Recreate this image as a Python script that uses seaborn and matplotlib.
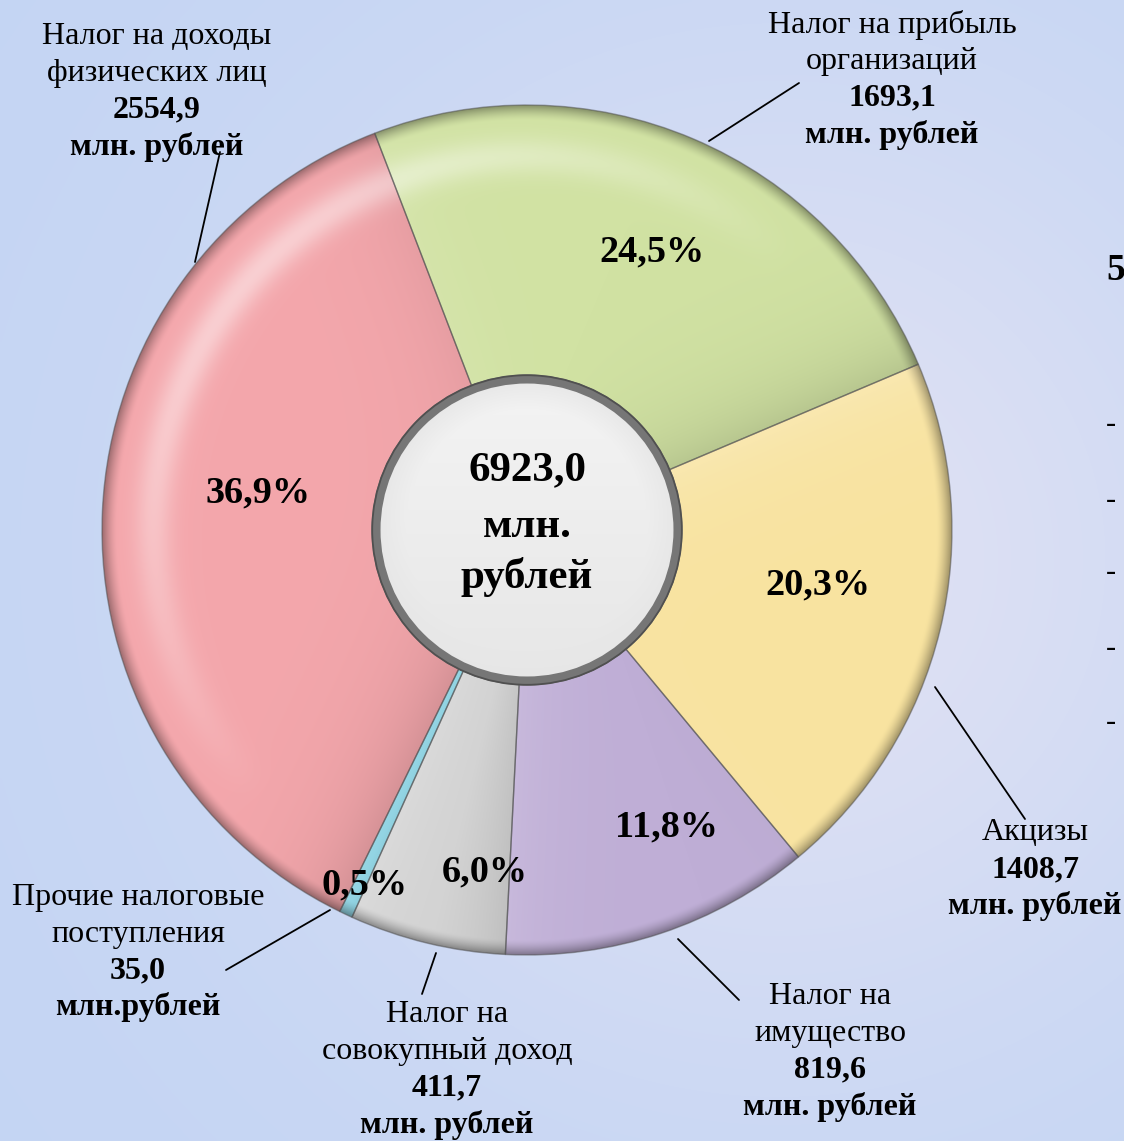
import numpy as np
import matplotlib
matplotlib.use("Agg")
import matplotlib.pyplot as plt
import matplotlib.colors as mcolors
from matplotlib.patches import Circle
import seaborn as sns

# data
categories = ["Налог на прибыль\nорганизаций", "Акцизы", "Налог на\nимущество",
              "Налог на\nсовокупный доход", "Прочие налоговые\nпоступления",
              "Налог на доходы\nфизических лиц"]
values = [1693.1, 1408.7, 819.6, 411.7, 35.0, 2554.9]
pct_labels = ["24,5%", "20,3%", "11,8%", "6,0%", "0,5%", "36,9%"]
units = ["млн. рублей", "млн. рублей", "млн. рублей", "млн. рублей", "млн.рублей", "млн. рублей"]
colors = ["#D1E2A3", "#F8E3A0", "#BFAED6", "#D3D3D3", "#92D4E3", "#F4A7AC"]

W, H = 1124, 1141

sns.set_style("white")
plt.rcParams["font.family"] = ["Liberation Serif", "DejaVu Serif"]
plt.rcParams["text.color"] = "black"


def fy(y):
    # pixel row -> data y
    return H - y


def fmt(v):
    return f"{v:.1f}".replace(".", ",")


fig = plt.figure(figsize=(W / 100, H / 100), dpi=100)
ax = fig.add_axes([0, 0, 1, 1])

# background gradient
gx, gy = np.meshgrid(np.linspace(0, W, 300), np.linspace(0, H, 300))
d = np.hypot((gx - 780) / 650, (gy - fy(560)) / 650)
w = np.exp(-1.6 * d ** 2)
c_edge = np.array(mcolors.to_rgb("#C4D5F4"))
c_mid = np.array(mcolors.to_rgb("#DFE1F3"))
bg = c_edge + (c_mid - c_edge) * w[..., None]
ax.imshow(bg, extent=(0, W, 0, H), origin="lower", zorder=0, aspect="auto",
          interpolation="bilinear")

# pie
cx, cy, R = 527, fy(530), 425
wedges, _ = ax.pie(values, colors=colors, startangle=111, counterclock=False,
                   center=(cx, cy), radius=R, frame=True,
                   wedgeprops=dict(linewidth=1.0, edgecolor=(0.3, 0.3, 0.3, 0.5)))

# soft bevel shading clipped to each wedge (light from the upper left)
n = 900
X, Y = np.meshgrid(np.linspace(cx - R, cx + R, n), np.linspace(cy - R, cy + R, n))
dist = np.hypot(X - cx, Y - cy)
phi = np.degrees(np.arctan2(Y - cy, X - cx))
light_dir = 135.0
rim = np.clip((dist / R - 0.965) / 0.035, 0, 1) ** 1.5 * 0.35
glow = np.exp(-((dist / R - 0.88) / 0.045) ** 2) * np.clip(np.cos(np.radians(phi - light_dir)), 0, 1) * 0.45
for wdg, col in zip(wedges, colors):
    t1, t2 = wdg.theta1, wdg.theta2
    span = t2 - t1
    rel = np.radians((phi - t1) % 360)
    d1 = dist * np.sin(np.clip(rel, 0, np.pi / 2))
    d2 = dist * np.sin(np.clip(np.radians(span) - rel, 0, np.pi / 2))
    f1 = np.cos(np.radians(t1 - 90 - light_dir))
    f2 = np.cos(np.radians(t2 + 90 - light_dir))
    w1 = np.exp(-d1 / 45.0)
    w2 = np.exp(-d2 / 45.0)
    amt = 0.13 * (f1 * w1 + f2 * w2)
    base = np.array(mcolors.to_rgb(col))
    img = np.broadcast_to(base, X.shape + (3,)).copy()
    lift = np.clip(amt, 0, None)[..., None]
    drop = np.clip(-amt, 0, None)[..., None]
    img = img + (1 - img) * lift * 1.4
    img = img * (1 - drop)
    img = img + (1 - img) * glow[..., None]
    img = img * (1 - rim[..., None])
    im = ax.imshow(np.clip(img, 0, 1), extent=(cx - R, cx + R, cy - R, cy + R),
                   origin="lower", zorder=2, interpolation="bilinear")
    im.set_clip_path(wdg)
    wdg.set_facecolor("none")
    wdg.set_zorder(3)

# centre disc
rc = 151
Xc, Yc = np.meshgrid(np.linspace(cx - rc, cx + rc, 400), np.linspace(cy - rc, cy + rc, 400))
rr = np.hypot(Xc - cx, Yc - cy) / rc
t = (cy + rc - Yc) / (2 * rc)
g = 0.955 - 0.05 * t - 0.05 * np.clip((rr - 0.8) / 0.2, 0, 1) * (1 - t)
disc = np.dstack([g, g, g])
ring = Circle((cx, cy), rc, facecolor="none", edgecolor="#767676", linewidth=6.5, zorder=6)
ax.add_patch(ring)
ax.add_patch(Circle((cx, cy), rc + 3.8, facecolor="none", edgecolor="#505050",
                    linewidth=1.3, zorder=6))
imc = ax.imshow(disc, extent=(cx - rc, cx + rc, cy - rc, cy + rc), origin="lower",
                zorder=5, interpolation="bilinear")
imc.set_clip_path(ring)

total = sum(values)
for txt, yy in zip([fmt(total), "млн.", "рублей"], [470, 527, 577]):
    ax.text(cx, fy(yy), txt, ha="center", va="center", fontsize=31,
            fontweight="bold", zorder=7)

# percentages
pct_pos = [(652, 252), (818, 585), (667, 827), (485, 872), (365, 885), (258, 493)]
for lab, (px, py) in zip(pct_labels, pct_pos):
    ax.text(px, fy(py), lab, ha="center", va="center", fontsize=27.5,
            fontweight="bold", zorder=7)

# outer labels with leader lines
label_pos = [(892, 25), (1035, 833), (830, 997), (447, 1015), (138, 898), (157, 37)]
leaders = [((709, 141), (799, 83)), ((935, 687), (1025, 819)), ((678, 939), (739, 1000)),
           ((436, 953), (422, 994)), ((330, 910), (226, 970)), ((195, 262), (220, 152))]
step = 36.5
for name, v, unit, (lx, ly), (p0, p1) in zip(categories, values, units, label_pos, leaders):
    lines = [(s, "normal") for s in name.split("\n")] + [(fmt(v), "bold"), (unit, "bold")]
    for k, (s, wt) in enumerate(lines):
        ax.text(lx, fy(ly + k * step), s, ha="center", va="center", fontsize=23,
                fontweight=wt, zorder=7)
    ax.plot([p0[0], p1[0]], [fy(p0[1]), fy(p1[1])], color="black", lw=1.3, zorder=8)

# fragments of the neighbouring slide text cut at the right edge
ax.text(1106, fy(270), "5", ha="left", va="center", fontsize=27, fontweight="bold")
for yy in [425, 500, 572, 648, 722]:
    ax.text(1106, fy(yy), "-", ha="left", va="center", fontsize=22)

ax.set_xlim(0, W)
ax.set_ylim(0, H)
ax.set_aspect("equal")
ax.axis("off")

fig.savefig("out.png", dpi=100)
